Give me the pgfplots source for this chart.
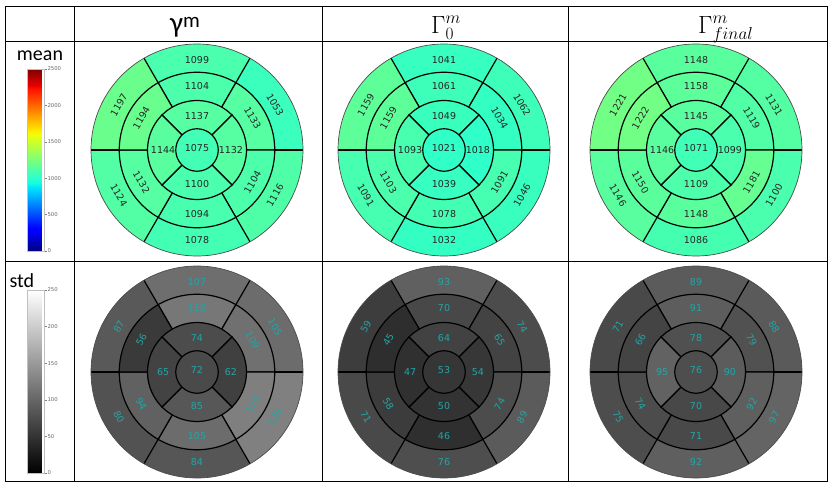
\documentclass[border=0pt]{standalone}
\usepackage{pgfplots}
\usepackage{pgfplotstable}
\pgfplotsset{compat=1.18}
\usepackage{fontspec}
\setmainfont{Carlito}
\newfontfamily\dejavu{DejaVu Sans}
\definecolor{stdtxt}{RGB}{35,165,165}

\pgfplotsset{
  colormap={mpljet}{rgb(0pt)=(0,0,0.5); rgb(110pt)=(0,0,1); rgb(125pt)=(0,0,1); rgb(340pt)=(0,0.86,1); rgb(350pt)=(0,0.9,0.968); rgb(375pt)=(0.081,1,0.887); rgb(640pt)=(0.935,1,0.032); rgb(650pt)=(0.968,0.963,0); rgb(660pt)=(1,0.926,0); rgb(890pt)=(1,0.074,0); rgb(910pt)=(0.909,0,0); rgb(1000pt)=(0.5,0,0)},
  colormap={mplgray}{gray(0pt)=(0); gray(1000pt)=(1)},
}

% segment geometry (centre angle, outer radius, half span, label radius, label rotation)
% and values: mean (mA mB mC) and std (sA sB sC) for gamma^m, Gamma_0^m, Gamma_final^m
\pgfplotstableread{
th  R      half lr    rot mA   mB   mC   sA  sB sC
90  1      30   0.85  0   1099 1041 1148 107 93 89
30  1      30   0.85  -60 1053 1062 1131 105 74 88
330 1      30   0.85  60  1116 1046 1100 125 89 97
270 1      30   0.85  0   1078 1032 1086 84  76 92
210 1      30   0.85  -60 1124 1091 1146 80  71 75
150 1      30   0.85  60  1197 1159 1221 87  59 71
90  0.7333 30   0.605 0   1104 1061 1158 116 70 91
30  0.7333 30   0.605 -60 1133 1034 1119 109 65 79
330 0.7333 30   0.605 60  1104 1091 1181 124 74 92
270 0.7333 30   0.605 0   1094 1078 1148 105 46 71
210 0.7333 30   0.605 -60 1132 1103 1150 94  58 74
150 0.7333 30   0.605 60  1194 1159 1222 56  45 66
90  0.4667 45   0.32  0   1137 1049 1145 74  64 78
0   0.4667 45   0.32  0   1132 1018 1099 62  54 90
270 0.4667 45   0.32  0   1100 1039 1109 85  50 70
180 0.4667 45   0.32  0   1144 1093 1146 65  47 95
90  0.2    180  0.02  0   1075 1021 1071 72  53 76
}\segdata

\newcommand\wedges[7]{%
 \pgfplotsforeachungrouped \i in {#1,...,#2}{%
  \pgfplotstablegetelem{\i}{th}\of\segdata \let\wth\pgfplotsretval
  \pgfplotstablegetelem{\i}{R}\of\segdata \let\wR\pgfplotsretval
  \pgfplotstablegetelem{\i}{half}\of\segdata \let\wh\pgfplotsretval
  \pgfplotstablegetelem{\i}{#3}\of\segdata \pgfmathsetmacro\wc{\pgfplotsretval*#5}%
  \pgfmathsetmacro\wa{\wth-\wh}\pgfmathsetmacro\wb{\wth+\wh}%
  \edef\wcmd{\noexpand\addplot[color of colormap={\wc\space of #4}, fill=., #6, line width=1.2pt, domain=\wa:\wb, samples=61, variable=\noexpand\t] ({\wR*cos(\noexpand\t)},{\wR*sin(\noexpand\t)}) #7;}%
  \wcmd
 }}

\newcommand\bullseye[6]{%
\begin{axis}[at={(#1pt,-#2pt)}, anchor=center, x=106pt, y=106pt,
  xmin=-1, xmax=1, ymin=-1, ymax=1, hide axis, clip=false]
  \wedges{0}{5}{#3}{#4}{#5}{draw=none}{-- (axis cs:0,0) -- cycle}
  \wedges{6}{11}{#3}{#4}{#5}{draw=black}{-- (axis cs:0,0) -- cycle}
  \wedges{12}{15}{#3}{#4}{#5}{draw=black}{-- (axis cs:0,0) -- cycle}
  \wedges{16}{16}{#3}{#4}{#5}{draw=black}{-- cycle}
  \pgfplotsinvokeforeach{0,60,120,180,240,300}{%
    \draw[line width=1.2pt] (axis cs:{0.7333*cos(##1)},{0.7333*sin(##1)}) -- (axis cs:{cos(##1)},{sin(##1)});}
  \draw[black!70, line width=0.7pt] (axis cs:0,0) circle[radius=1];
  \addplot[draw=none, mark=none, point meta=explicit symbolic, nodes near coords,
    visualization depends on={\thisrow{rot}\as\lrot},
    every node near coord/.append style={anchor=center, rotate=\lrot, text=#6,
      font=\dejavu\fontsize{9.5}{10}\selectfont}]
    table[x expr={\thisrow{lr}*cos(\thisrow{th})}, y expr={\thisrow{lr}*sin(\thisrow{th})}, meta=#3] {\segdata};
\end{axis}}

\newcommand\cbar[5]{%
\begin{axis}[at={(19pt,-#1pt)}, anchor=north west, scale only axis, width=17pt, height=#5pt,
  hide axis, xmin=0, xmax=1, ymin=0, ymax=1, colormap name=#2,
  point meta min=0, point meta max=#3, colorbar,
  colorbar style={at={(parent axis.north west)}, anchor=north west, width=17pt,
    ytick={#4}, major tick length=2pt, tick align=outside, ytick pos=right, yticklabel pos=right,
    yticklabel style={font=\dejavu\fontsize{5.3}{6}\selectfont, text=black!60, inner sep=0.8pt},
    ytick style={black!50, line width=0.4pt},
    axis line style={black!25, line width=0.5pt},
    /pgf/number format/assume math mode=true, /pgf/number format/1000 sep={}}]
  \addplot[draw=none] coordinates {(0,0) (1,1)};
\end{axis}}

\begin{document}
\begin{tikzpicture}
% table rules
\draw[line width=0.8pt] (5pt,-6pt) rectangle (827pt,-481pt);
\draw[line width=0.8pt] (74pt,-6pt) -- (74pt,-481pt) (322pt,-6pt) -- (322pt,-481pt)
  (568pt,-6pt) -- (568pt,-481pt) (5pt,-41pt) -- (827pt,-41pt) (5pt,-261pt) -- (827pt,-261pt);
% headers
\node[font=\fontsize{29}{30}\selectfont, anchor=base west, inner sep=0pt] at (170pt,-32pt) {γ\raisebox{5pt}{\fontsize{21}{22}\selectfont m}};
\node[font=\fontsize{24}{26}\selectfont, anchor=base west, inner sep=0pt] at (431pt,-33pt) {$\Gamma_0^m$};
\node[font=\fontsize{24}{26}\selectfont, anchor=base west, inner sep=0pt] at (698pt,-33pt) {$\Gamma_{final}^m$};
\node[font=\fontsize{20}{22}\selectfont, anchor=base] at (40pt,-60pt) {mean};
\node[font=\fontsize{20}{22}\selectfont, anchor=base west] at (6pt,-287pt) {std};
% colour bars
\cbar{69}{mpljet}{2500}{0,500,1000,1500,2000,2500}{182}
\cbar{290}{mplgray}{250}{0,50,100,150,200,250}{183}
% bullseyes
\bullseye{197}{150}{mA}{mpljet}{0.4}{black!85}
\bullseye{444}{150}{mB}{mpljet}{0.4}{black!85}
\bullseye{696}{150}{mC}{mpljet}{0.4}{black!85}
\bullseye{197}{372}{sA}{mplgray}{4}{stdtxt}
\bullseye{444}{372}{sB}{mplgray}{4}{stdtxt}
\bullseye{696}{372}{sC}{mplgray}{4}{stdtxt}
\pgfresetboundingbox
\path[use as bounding box] (0pt,0pt) rectangle (836pt,-493pt);
\end{tikzpicture}
\end{document}
